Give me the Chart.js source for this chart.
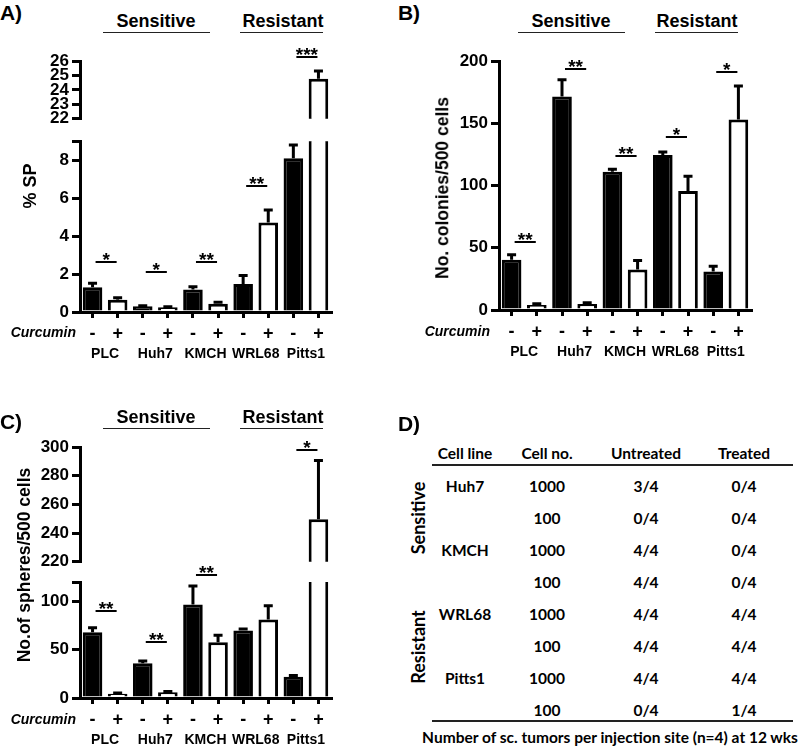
<!DOCTYPE html>
<html><head><meta charset="utf-8">
<script src="https://cdn.jsdelivr.net/npm/chart.js@4"></script>
<style>
html,body{margin:0;padding:0;background:#fff;overflow:hidden}
#fig{position:relative;width:800px;height:747px;font-family:"Liberation Sans",Arial,sans-serif;font-weight:bold;color:#000;overflow:hidden}
.box{position:absolute}
.box canvas{display:block}
.t{position:absolute;white-space:nowrap;line-height:1;transform:translate(-50%,-50%)}
.tr{position:absolute;white-space:nowrap;line-height:1;transform:translate(-100%,-50%)}
.hl{position:absolute;height:0;border-top:1.6px solid #222}
.rot{position:absolute;white-space:nowrap;line-height:1;transform:translate(-50%,-50%) rotate(-90deg)}
.tab{font-family:Lato,"Open Sans",sans-serif;font-weight:bold;font-size:15.5px}
</style></head>
<body>
<div id="fig"></div>
<script>
// ---------- data ----------
const cellLines = ['PLC', 'Huh7', 'KMCH', 'WRL68', 'Pitts1'];
const curcumin = ['-', '+', '-', '+', '-', '+', '-', '+', '-', '+'];

// A) side population (% SP)
const spMean = [1.31, 0.65, 0.30, 0.25, 1.19, 0.44, 1.48, 4.71, 8.10, 24.78];
const spErr = [0.21, 0.10, 0.03, 0.03, 0.14, 0.07, 0.44, 0.66, 0.70, 0.52];
const spSigY = [2.65, 2.13, 2.65, 6.66, 26.27];
const spSigLabel = ['*', '*', '**', '**', '***'];
const spTicksLow = [0, 2, 4, 6, 8];
const spTicksHigh = [22, 23, 24, 25, 26];

// B) colonies / 500 cells
const colMean = [40.3, 4.0, 171.5, 4.8, 111, 32.5, 124.4, 95.6, 30.9, 153];
const colErr = [4.1, 1.0, 13.5, 1.0, 2.0, 7.3, 2.6, 11.9, 4.3, 27];
const colSigY = [54.5, 193.8, 123.9, 138.7, 190.8];
const colSigLabel = ['**', '**', '**', '*', '*'];
const colTicks = [0, 50, 100, 150, 200];

// C) spheres / 500 cells
const sphMean = [68, 4.5, 35.9, 6, 96.8, 57.7, 69.8, 81.2, 22.1, 249.6];
const sphErr = [4.6, 0.8, 2.5, 0.8, 19, 7.3, 1.7, 14.2, 1.3, 41];
const sphSigY = [89.5, 57.7, 127.6, null, 297.9];
const sphSigLabel = ['**', '**', '**', '', '*'];
const sphTicksLow = [0, 50, 100];
const sphTicksHigh = [220, 240, 260, 280, 300];

// D) table
const tblHeader = ['Cell line', 'Cell no.', 'Untreated', 'Treated'];
const tblLine = ['Huh7', '', 'KMCH', '', 'WRL68', '', 'Pitts1', ''];
const tblCellNo = ['1000', '100', '1000', '100', '1000', '100', '1000', '100'];
const tblUntreated = ['3/4', '0/4', '4/4', '4/4', '4/4', '4/4', '4/4', '0/4'];
const tblTreated = ['0/4', '0/4', '0/4', '0/4', '4/4', '4/4', '4/4', '1/4'];
const tblGroups = ['Sensitive', 'Resistant'];
const tblCaption = 'Number of sc. tumors per injection site (n=4) at 12 wks';

// ---------- helpers ----------
const FONT = 'Liberation Sans';
Chart.defaults.font.family = FONT;
Chart.defaults.color = '#000';
const fig = document.getElementById('fig');

function addText(cls, x, y, txt, style) {
  const d = document.createElement('div');
  d.className = cls; d.textContent = txt;
  d.style.left = x + 'px'; d.style.top = y + 'px';
  if (style) Object.assign(d.style, style);
  fig.appendChild(d); return d;
}
function addLine(x0, x1, y, w) {
  const d = document.createElement('div');
  d.className = 'hl';
  d.style.left = x0 + 'px'; d.style.top = y + 'px'; d.style.width = (x1 - x0) + 'px';
  if (w) d.style.borderTopWidth = w + 'px';
  fig.appendChild(d);
}

function overlay(err, sigY, sigLabel, lo, hi) {
  return {
    id: 'overlay',
    afterDatasetsDraw(chart) {
      const ctx = chart.ctx, xs = chart.scales.x, ys = chart.scales.y;
      const mean = chart.data.datasets[0].data;
      ctx.save();
      ctx.strokeStyle = '#000'; ctx.lineWidth = 3;
      mean.forEach((m, i) => {
        if (m < ys.min || m > ys.max) return;
        const px = xs.getPixelForValue(i);
        const y0 = ys.getPixelForValue(m), y1 = ys.getPixelForValue(m + err[i]);
        ctx.beginPath();
        ctx.moveTo(px, y0); ctx.lineTo(px, y1);
        ctx.moveTo(px - 4.5, y1); ctx.lineTo(px + 4.5, y1);
        ctx.stroke();
      });
      const band = xs.getPixelForValue(1) - xs.getPixelForValue(0);
      ctx.lineWidth = 2;
      ctx.fillStyle = '#000';
      ctx.font = 'bold 19px ' + FONT;
      ctx.textAlign = 'center'; ctx.textBaseline = 'alphabetic';
      sigY.forEach((v, k) => {
        if (v === null || v < lo || v >= hi) return;
        const x0 = xs.getPixelForValue(2 * k) + 0.12 * band;
        const x1 = xs.getPixelForValue(2 * k) + 0.96 * band;
        const py = Math.round(ys.getPixelForValue(v));
        ctx.beginPath(); ctx.moveTo(x0, py); ctx.lineTo(x1, py); ctx.stroke();
        ctx.fillText(sigLabel[k], (x0 + x1) / 2, py + 3.5);
      });
      ctx.restore();
    }
  };
}

function makeBar(o) {
  const box = document.createElement('div');
  box.className = 'box';
  box.style.left = o.left + 'px'; box.style.top = o.top + 'px';
  const cv = document.createElement('canvas');
  cv.width = o.width; cv.height = o.height;
  cv.style.width = o.width + 'px'; cv.style.height = o.height + 'px';
  box.appendChild(cv); fig.appendChild(box);
  const tickFont = { family: FONT, size: 17, weight: 'bold' };
  const scales = {
    y: {
      type: 'linear', min: o.min, max: o.max,
      afterFit: s => { s.width = o.axisX; },
      afterBuildTicks: s => { s.ticks = o.tickVals.map(v => ({ value: v })); },
      ticks: {
        autoSkip: false, padding: 3, color: '#000', font: tickFont,
        callback: v => (o.labelVals.indexOf(v) >= 0 ? String(v) : '')
      },
      grid: { drawOnChartArea: false, drawTicks: true, tickLength: 8, lineWidth: 3, color: '#000' },
      border: { display: true, width: 3, color: '#000' }
    },
    x: {
      type: 'category', display: o.showX, weight: 0,
      afterFit: s => { s.height = o.showX ? 28 : 0; },
      ticks: { padding: 5, color: '#000', font: { family: FONT, size: 18, weight: 'bold' }, autoSkip: false, maxRotation: 0 },
      grid: { display: true, offset: false, drawOnChartArea: false, drawTicks: true, tickLength: 6, lineWidth: 3, color: '#000' },
      border: { display: true, width: 3, color: '#000' }
    }
  };
  if (o.showX) {
    scales.x2 = {
      type: 'category', labels: cellLines, position: 'bottom', weight: 1,
      afterFit: s => { s.height = 18; },
      ticks: { padding: 6, color: '#000', font: { family: FONT, size: 14, weight: 'bold' }, autoSkip: false, maxRotation: 0 },
      grid: { display: false, drawTicks: false },
      border: { display: false }
    };
  }
  return new Chart(cv, {
    type: 'bar',
    data: {
      labels: curcumin,
      datasets: [{
        data: o.mean,
        backgroundColor: curcumin.map(c => (c === '-' ? '#000' : '#fff')),
        borderColor: '#000', borderWidth: 3,
        barPercentage: 0.78, categoryPercentage: 1, clip: 0
      }]
    },
    options: {
      responsive: false, animation: false, devicePixelRatio: 1,
      layout: { padding: o.pad },
      plugins: { legend: { display: false }, tooltip: { enabled: false } },
      scales
    },
    plugins: [overlay(o.err, o.sigY, o.sigLabel, o.lo, o.hi)]
  });
}

// ---------- Panel A ----------
makeBar({ left: 0, top: 40, width: 345, height: 92, axisX: 80, pad: { top: 21, bottom: 12, left: 0, right: 14 },
  min: 22, max: 26, tickVals: spTicksHigh, labelVals: spTicksHigh, showX: false,
  mean: spMean, err: spErr, sigY: spSigY, sigLabel: spSigLabel, lo: 22, hi: Infinity });
makeBar({ left: 0, top: 128, width: 345, height: 240, axisX: 80, pad: { top: 11, bottom: 10, left: 0, right: 14 },
  min: 0, max: 9, tickVals: spTicksLow.concat([9]), labelVals: spTicksLow, showX: true,
  mean: spMean, err: spErr, sigY: spSigY, sigLabel: spSigLabel, lo: -Infinity, hi: 22 });

// ---------- Panel B ----------
makeBar({ left: 400, top: 40, width: 362, height: 330, axisX: 99, pad: { top: 21, bottom: 14, left: 0, right: 11 },
  min: 0, max: 200, tickVals: colTicks, labelVals: colTicks, showX: true,
  mean: colMean, err: colErr, sigY: colSigY, sigLabel: colSigLabel, lo: -Infinity, hi: Infinity });

// ---------- Panel C ----------
makeBar({ left: 0, top: 425, width: 345, height: 150, axisX: 80, pad: { top: 22, bottom: 13, left: 0, right: 14 },
  min: 220, max: 300, tickVals: sphTicksHigh, labelVals: sphTicksHigh, showX: false,
  mean: sphMean, err: sphErr, sigY: sphSigY, sigLabel: sphSigLabel, lo: 220, hi: Infinity });
makeBar({ left: 0, top: 545, width: 345, height: 202, axisX: 80, pad: { top: 37, bottom: 3, left: 0, right: 14 },
  min: 0, max: 120, tickVals: sphTicksLow.concat([120]), labelVals: sphTicksLow, showX: true,
  mean: sphMean, err: sphErr, sigY: sphSigY, sigLabel: sphSigLabel, lo: -Infinity, hi: 220 });

// ---------- texts for A, B, C ----------
const big = { fontSize: '21px' };
addText('t', 11, 12, 'A)', big);
addText('t', 409, 12, 'B)', big);
addText('t', 11, 421, 'C)', big);
addText('t', 409, 423, 'D)', big);

const head = { fontSize: '18px' };
[[0, 21, 32], [415, 21, 32], [0, 416.5, 427.5]].forEach(([off, ty, ly]) => {
  addText('t', 156 + off, ty, 'Sensitive', head);
  addLine(103 + off, 210 + off, ly);
  addText('t', 283 + off - (off ? 1 : 0), ty, 'Resistant', head);
  addLine(240 + off, 323 + off, ly);
});

const ital = { fontSize: '14px', fontStyle: 'italic' };
addText('tr', 76, 332, 'Curcumin', ital);
addText('tr', 490, 331, 'Curcumin', ital);
addText('tr', 76, 719, 'Curcumin', ital);

addText('rot', 30, 186, '% SP', { fontSize: '18px' });
addText('rot', 443, 188, 'No. colonies/500 cells', { fontSize: '17.5px' });
addText('rot', 25, 565, 'No.of spheres/500 cells', { fontSize: '17.5px' });

// ---------- Panel D (table) ----------
const colX = [465, 547, 646, 744];
tblHeader.forEach((h, j) => addText('t tab', colX[j], 454, h));
addLine(432, 793, 463.5, 2);
const rowY = [486.7, 518.5, 550.7, 582.7, 615, 646.7, 679, 710.7];
rowY.forEach((y, r) => {
  if (tblLine[r]) addText('t tab', colX[0], y, tblLine[r]);
  addText('t tab', colX[1], y, tblCellNo[r]);
  addText('t tab', colX[2], y, tblUntreated[r]);
  addText('t tab', colX[3], y, tblTreated[r]);
});
addLine(432, 793, 720, 2);
addText('rot tab', 418, 518, tblGroups[0], { fontSize: '18px' });
addText('rot tab', 418, 647, tblGroups[1], { fontSize: '18px' });
addText('t tab', 610, 738, tblCaption);
</script>
</body></html>
